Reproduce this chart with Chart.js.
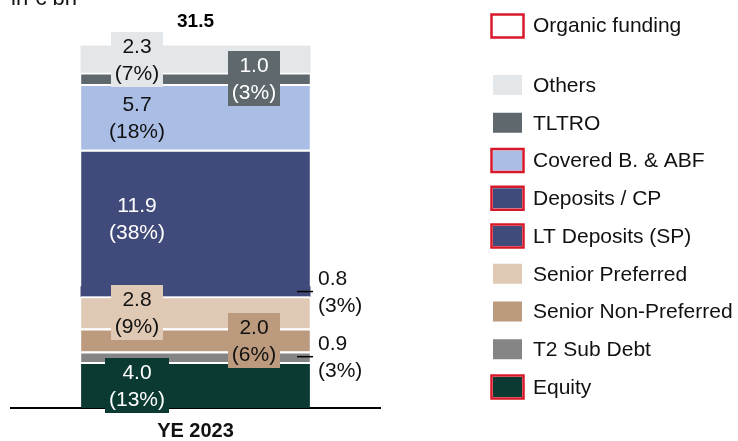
<!DOCTYPE html>
<html>
<head>
<meta charset="utf-8">
<script src="https://cdn.jsdelivr.net/npm/chart.js@4/dist/chart.umd.min.js"></script>
<style>
  html, body { margin: 0; padding: 0; background: #fff; }
  #wrap { width: 738px; height: 441px; position: relative; }
</style>
</head>
<body>
<div id="wrap"><canvas id="fundingChart" width="738" height="441"></canvas></div>
<script>
// Datos (de abajo hacia arriba en la barra)
const categories = ['YE 2023'];
const seriesNames = ['Equity', 'T2 Sub Debt', 'Senior Non-Preferred', 'Senior Preferred',
    'LT Deposits (SP)', 'Deposits / CP', 'Covered B. & ABF', 'TLTRO', 'Others'];
const seriesValues = [4.0, 0.9, 2.0, 2.8, 0.8, 11.9, 5.7, 1.0, 2.3];
const seriesShares = [13, 3, 6, 9, 3, 38, 18, 3, 7];
const organicFunding = [true, false, false, false, true, true, true, false, false];
const totals = [31.5];
const unitLabel = 'in € bn';
const organicLabel = 'Organic funding';

// Estilos
const fillColors = ['#0B3A33', '#858585', '#BB9A7E', '#DFC9B5', '#414B7B', '#414B7B', '#A9BDE5', '#5E686D', '#E4E7EA'];
const textColors = ['#fff', '#111', '#111', '#111', '#111', '#fff', '#111', '#fff', '#111'];
const labelSide = ['left', 'outside', 'right', 'left', 'outside', 'left', 'left', 'right', 'left'];
const showLabelBox = [true, false, true, true, false, false, false, true, true];
const topSeparator = [2, 2, 2, 2, 0, 2, 2, 2, 0];
const RED = '#D7182A';
const FONT = '"Liberation Sans", Arial, sans-serif';

// Etiquetas de datos dentro / fuera de la barra
const labelsPlugin = {
    id: 'segmentLabels',
    afterDatasetsDraw(chart) {
        const ctx = chart.ctx;
        ctx.save();
        ctx.font = '21px ' + FONT;
        ctx.textBaseline = 'middle';
        chart.data.datasets.forEach((ds, i) => {
            const bar = chart.getDatasetMeta(i).data[0];
            const cy = (bar.y + bar.base) / 2;
            const l1 = seriesValues[i].toFixed(1);
            const l2 = '(' + seriesShares[i] + '%)';
            if (labelSide[i] === 'outside') {
                ctx.strokeStyle = '#000';
                ctx.lineWidth = 1.5;
                ctx.beginPath();
                ctx.moveTo(bar.x + 101.5, cy);
                ctx.lineTo(bar.x + 117.5, cy);
                ctx.stroke();
                ctx.fillStyle = '#111';
                ctx.textAlign = 'left';
                ctx.fillText(l1, bar.x + 122.5, cy - 12);
                ctx.fillText(l2, bar.x + 122.5, cy + 15);
                return;
            }
            const x = labelSide[i] === 'left' ? bar.x - 58.5 : bar.x + 58.5;
            if (showLabelBox[i]) {
                const w = Math.max(ctx.measureText(l1).width, ctx.measureText(l2).width) + 8;
                ctx.fillStyle = fillColors[i];
                ctx.fillRect(Math.round(x - w / 2), Math.round(cy - 27), Math.round(w), 55);
            }
            ctx.fillStyle = textColors[i];
            ctx.textAlign = 'center';
            ctx.fillText(l1, x, cy - 12);
            ctx.fillText(l2, x, cy + 15);
        });
        // Total encima de la barra
        const last = chart.getDatasetMeta(chart.data.datasets.length - 1).data[0];
        ctx.fillStyle = '#000';
        ctx.font = 'bold 19px ' + FONT;
        ctx.textAlign = 'center';
        ctx.fillText(totals[0].toFixed(1), last.x, last.y - 24);
        ctx.restore();
    }
};

// Leyenda y unidad dibujadas a mano
const legendPlugin = {
    id: 'customLegend',
    afterDraw(chart) {
        const ctx = chart.ctx;
        ctx.save();
        ctx.font = '22px ' + FONT;
        ctx.fillStyle = '#111';
        ctx.textBaseline = 'alphabetic';
        ctx.textAlign = 'left';
        ctx.fillText(unitLabel, 11, 5);

        ctx.font = '21px ' + FONT;
        ctx.textBaseline = 'middle';
        const bx = 493, bw = 29, bh = 20, tx = 533;
        function drawBox(cy, fill, border) {
            ctx.fillStyle = fill;
            ctx.fillRect(bx, cy - bh / 2, bw, bh);
            if (border) {
                ctx.strokeStyle = RED;
                ctx.lineWidth = 2.5;
                ctx.strokeRect(bx - 1.5, cy - bh / 2 - 1.5, bw + 3, bh + 3);
            }
        }
        drawBox(26, '#fff', true);
        ctx.fillStyle = '#111';
        ctx.fillText(organicLabel, tx, 26);
        const n = seriesNames.length;
        for (let k = 0; k < n; k++) {
            const i = n - 1 - k;
            const cy = 85 + k * 37.75;
            drawBox(cy, fillColors[i], organicFunding[i]);
            ctx.fillStyle = '#111';
            ctx.fillText(seriesNames[i], tx, cy + 1);
        }
        ctx.restore();
    }
};

const datasets = seriesNames.map((name, i) => ({
    label: name,
    data: [seriesValues[i]],
    backgroundColor: fillColors[i],
    borderColor: '#fff',
    borderWidth: { top: topSeparator[i], bottom: 0, left: 0, right: 0 },
    borderSkipped: false,
    inflateAmount: topSeparator[i] === 0 ? 0.6 : 0,
    barPercentage: 1,
    categoryPercentage: 0.62
}));

const ctx = document.getElementById('fundingChart').getContext('2d');
const fundingChart = new Chart(ctx, {
    type: 'bar',
    data: { labels: categories, datasets: datasets },
    options: {
        responsive: false,
        animation: false,
        layout: { padding: { left: 11, right: 358, top: 16, bottom: 0 } },
        plugins: { legend: { display: false }, tooltip: { enabled: false } },
        scales: {
            x: {
                stacked: true,
                grid: { display: false },
                border: { display: true, color: '#000', width: 2 },
                ticks: { color: '#111', padding: 3, font: { family: FONT, size: 20, weight: 'bold' } },
                afterFit(scale) { scale.height = 33; }
            },
            y: {
                stacked: true,
                display: false,
                min: 0,
                max: 34
            }
        }
    },
    plugins: [labelsPlugin, legendPlugin]
});
</script>
</body>
</html>
